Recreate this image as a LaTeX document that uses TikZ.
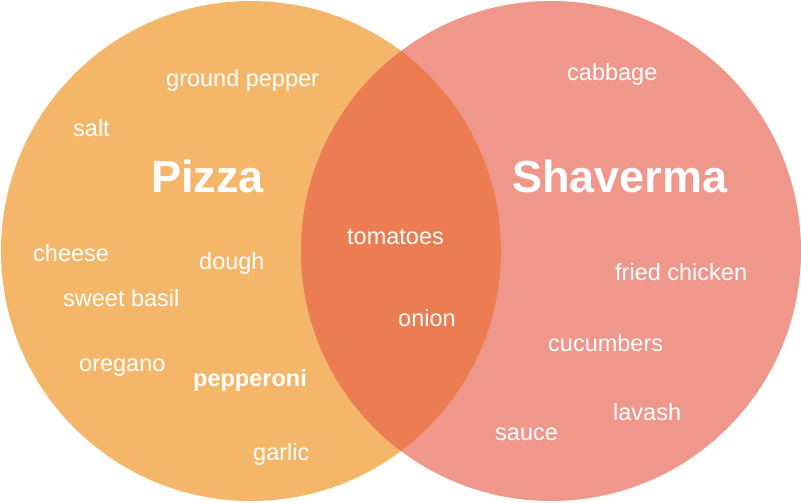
\documentclass[tikz,border=0pt]{standalone}
\usepackage{fontspec}
\setmainfont{Liberation Sans}
\definecolor{pizzaorange}{HTML}{F4B769}
\definecolor{shavpink}{HTML}{F0978B}
\definecolor{bothred}{HTML}{EC7C52}
\begin{document}
\begin{tikzpicture}[x=1pt,y=-1pt,
  item/.style={anchor=base west,inner sep=0pt,text=white,font=\fontsize{23.5}{28}\selectfont},
  title/.style={anchor=base west,inner sep=0pt,text=white,font=\fontsize{45}{52}\selectfont\bfseries}]
  \useasboundingbox (0,0) rectangle (801,503);
  \fill[pizzaorange] (251,251) circle (250);
  \fill[shavpink] (551,251) circle (250);
  \begin{scope}
    \clip (251,251) circle (250);
    \fill[bothred] (551,251) circle (250);
  \end{scope}
  % pizza side
  \node[title] (pizza) at (151,192) {Pizza};
  \node[item] (groundpepper) at (166,86) {ground pepper};
  \node[item] (salt) at (73,136) {salt};
  \node[item] (cheese) at (33,261) {cheese};
  \node[item] (dough) at (199,269) {dough};
  \node[item] (sweetbasil) at (63,306) {sweet basil};
  \node[item] (oregano) at (79,371) {oregano};
  \node[item,font=\fontsize{23.5}{28}\selectfont\bfseries] (pepperoni) at (193,386) {pepperoni};
  \node[item] (garlic) at (253,460) {garlic};
  % both
  \node[item] (tomatoes) at (347,244) {tomatoes};
  \node[item] (onion) at (398,326) {onion};
  % shaverma side
  \node[title] (shaverma) at (512,192) {Shaverma};
  \node[item] (cabbage) at (567,81) {cabbage};
  \node[item] (friedchicken) at (615,280) {fried chicken};
  \node[item] (cucumbers) at (548,351) {cucumbers};
  \node[item] (lavash) at (613,420) {lavash};
  \node[item] (sauce) at (495,440) {sauce};
\end{tikzpicture}
\end{document}
